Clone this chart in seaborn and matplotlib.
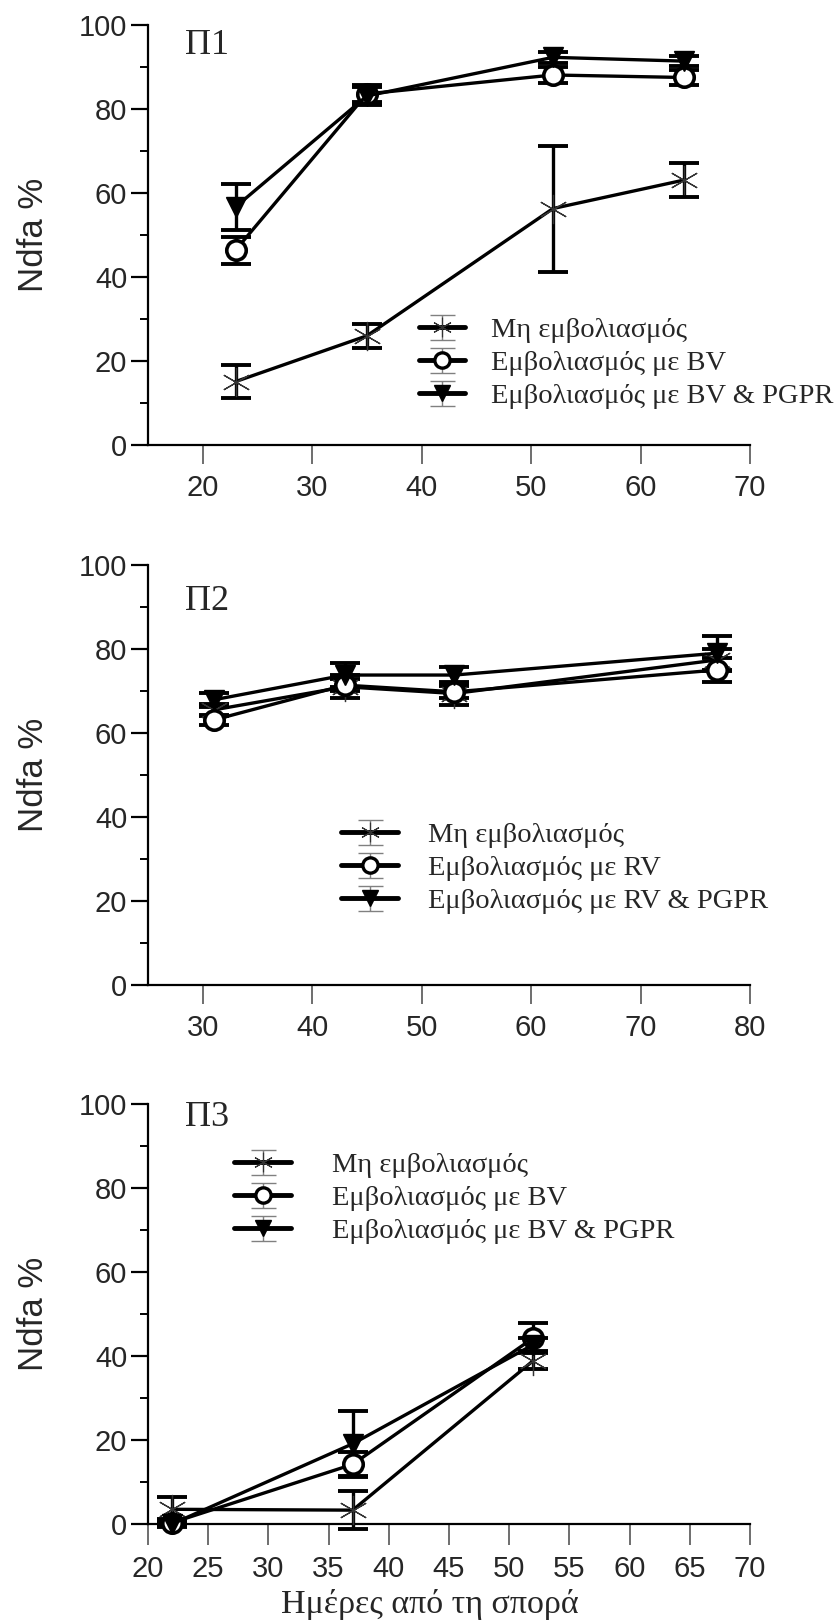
import numpy as np
import pandas as pd
import seaborn as sns
import matplotlib
matplotlib.use("Agg")
import matplotlib.pyplot as plt
from matplotlib.lines import Line2D
from matplotlib.path import Path
from matplotlib.legend_handler import HandlerTuple
from matplotlib.ticker import MultipleLocator

# ---- data: Ndfa % over days after sowing, three field trials ----
days_p1 = [23, 35, 52, 64]
p1_control = [15.1, 26.0, 56.3, 63.1]
p1_control_err = [4.0, 2.8, 15.0, 4.0]
p1_inoc = [46.4, 83.6, 88.1, 87.5]
p1_inoc_err = [3.2, 2.0, 1.9, 1.8]
p1_inoc_pgpr = [56.7, 83.1, 92.3, 91.4]
p1_inoc_pgpr_err = [5.4, 2.2, 1.3, 1.2]

days_p2 = [31, 43, 53, 77]
p2_control = [65.5, 71.0, 69.4, 77.4]
p2_control_err = [1.5, 2.7, 2.8, 2.5]
p2_inoc = [63.1, 71.4, 69.8, 75.0]
p2_inoc_err = [1.3, 1.5, 1.5, 2.9]
p2_inoc_pgpr = [67.9, 73.8, 73.8, 79.0]
p2_inoc_pgpr_err = [1.6, 2.9, 2.0, 4.2]

days_p3 = [22, 37, 52]
p3_control = [3.5, 3.3, 38.9]
p3_control_err = [3.0, 4.6, 2.0]
p3_inoc = [0.3, 14.2, 44.3]
p3_inoc_err = [0.8, 3.0, 3.5]
p3_inoc_pgpr = [0.0, 19.1, 42.7]
p3_inoc_pgpr_err = [0.8, 7.7, 1.5]

labels_bv = ["Μη εμβολιασμός", "Εμβολιασμός με BV", "Εμβολιασμός με BV & PGPR"]
labels_rv = ["Μη εμβολιασμός", "Εμβολιασμός με RV", "Εμβολιασμός με RV & PGPR"]
panel_titles = ["Π1", "Π2", "Π3"]
x_label = "Ημέρες από τη σπορά"
y_label = "Ndfa %"

sns.set_style("ticks")
plt.rcParams["font.family"] = ["Liberation Sans", "DejaVu Sans"]
SERIF = ["Liberation Serif", "DejaVu Serif"]

# marker styles for the three treatments
STAR = (6, 2, 0)
styles = [
    dict(marker=STAR, markersize=21, mfc="none", mec="#333333", mew=0.9),
    dict(marker="o", markersize=14, mfc="white", mec="black", mew=2.6),
    dict(marker="v", markersize=15, mfc="black", mec="black", mew=1.0),
]
legend_styles = [
    dict(marker=STAR, markersize=14, mfc="none", mec="#333333", mew=0.8),
    dict(marker="o", markersize=11, mfc="white", mec="black", mew=2.4),
    dict(marker="v", markersize=12, mfc="black", mec="black", mew=1.0),
]

# I-beam marker used to show the error bar in legend keys
ibeam = Path(
    [(0, -1), (0, 1), (-1, 1), (1, 1), (-1, -1), (1, -1)],
    [Path.MOVETO, Path.LINETO, Path.MOVETO, Path.LINETO, Path.MOVETO, Path.LINETO],
)

W, H = 839, 1622
fig = plt.figure(figsize=(W / 100, H / 100), dpi=100)


def px_axes(left, right, top, bottom):
    return fig.add_axes([left / W, 1 - bottom / H, (right - left) / W, (bottom - top) / H])


LEG_SIZE = 20.5

panels = [
    dict(top=25, bottom=445, xlim=(15, 70), xstep=10, days=days_p1,
         series=[(p1_control, p1_control_err), (p1_inoc, p1_inoc_err), (p1_inoc_pgpr, p1_inoc_pgpr_err)],
         labels=labels_bv, title_xy=(0.098, 0.95), leg_xy=(0.450, 0.195),
         handlelength=1.62, textpad=0.92),
    dict(top=565, bottom=985, xlim=(25, 80), xstep=10, days=days_p2,
         series=[(p2_control, p2_control_err), (p2_inoc, p2_inoc_err), (p2_inoc_pgpr, p2_inoc_pgpr_err)],
         labels=labels_rv, title_xy=(0.098, 0.912), leg_xy=(0.321, 0.279),
         handlelength=2.0, textpad=1.05),
    dict(top=1104, bottom=1524, xlim=(20, 70), xstep=5, days=days_p3,
         series=[(p3_control, p3_control_err), (p3_inoc, p3_inoc_err), (p3_inoc_pgpr, p3_inoc_pgpr_err)],
         labels=labels_bv, title_xy=(0.098, 0.969), leg_xy=(0.143, 0.776),
         handlelength=2.0, textpad=1.44),
]

for i, p in enumerate(panels):
    ax = px_axes(148, 750, p["top"], p["bottom"])
    for (vals, errs), st in zip(p["series"], styles):
        df = pd.DataFrame({"day": p["days"], "ndfa": vals})
        sns.lineplot(data=df, x="day", y="ndfa", ax=ax, color="black", lw=2.4,
                     errorbar=None, legend=False, clip_on=False, zorder=3, **st)
        eb = ax.errorbar(p["days"], vals, yerr=errs, fmt="none", ecolor="black",
                         elinewidth=2.4, capsize=10.5, capthick=2.8, zorder=2)
        for art in eb.get_children():
            art.set_clip_on(False)

    ax.set_xlim(*p["xlim"])
    ax.set_ylim(0, 100)
    ax.xaxis.set_major_locator(MultipleLocator(p["xstep"]))
    ax.yaxis.set_major_locator(MultipleLocator(20))
    ax.yaxis.set_minor_locator(MultipleLocator(10))
    ax.set_xlabel("")
    ax.set_ylabel(y_label, fontsize=25, labelpad=21)
    sns.despine(ax=ax)
    for side in ("left", "bottom"):
        ax.spines[side].set_linewidth(1.6)
        ax.spines[side].set_color("black")
    ax.tick_params(axis="y", which="major", length=12, width=1.6, labelsize=21, pad=3, color="black")
    ax.tick_params(axis="y", which="minor", length=6, width=1.4, color="black")
    ax.tick_params(axis="x", which="major", length=14 if i < 2 else 15, width=1.2,
                   labelsize=21, pad=7, color="#555555")
    ax.text(*p["title_xy"], panel_titles[i], transform=ax.transAxes, ha="center", va="center",
            fontsize=26, family=SERIF)

    handles = []
    for st in legend_styles:
        bar = Line2D([], [], ls="none", marker=ibeam, markersize=18, mfc="none",
                     mec="#808080", mew=1.0)
        line = Line2D([], [], color="black", lw=3.5, **st)
        handles.append((bar, line))
    ax.legend(handles, p["labels"], handler_map={tuple: HandlerTuple(ndivide=1, pad=0)},
              loc="center left", bbox_to_anchor=p["leg_xy"], frameon=False,
              borderpad=0, borderaxespad=0, handlelength=p["handlelength"],
              handletextpad=p["textpad"], labelspacing=0.24,
              prop={"family": SERIF, "size": LEG_SIZE})

fig.text(430 / W, 1 - 1605 / H, x_label, ha="center", va="center", fontsize=24.5, family=SERIF)

fig.savefig("out.png", dpi=100)
